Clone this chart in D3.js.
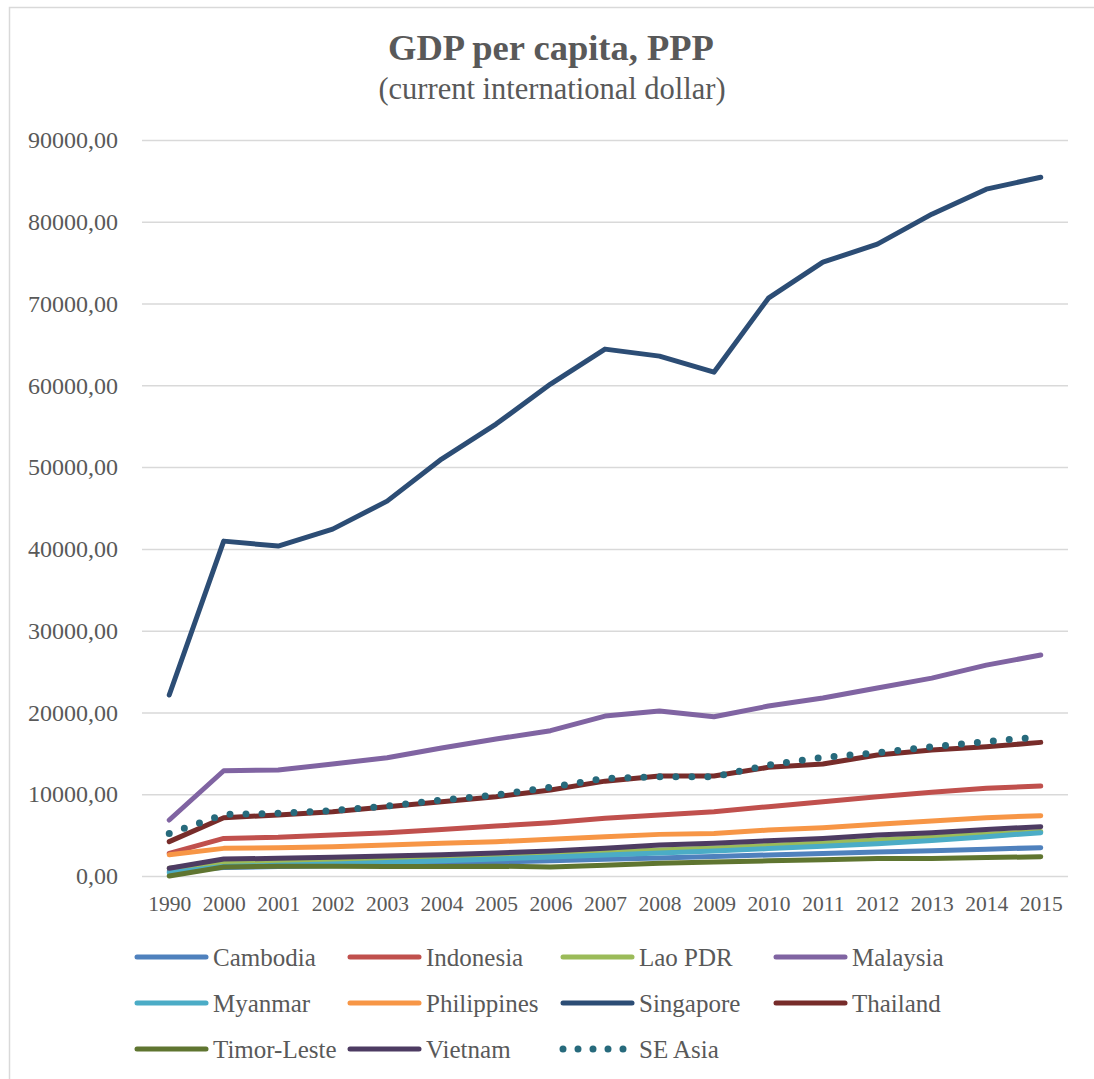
<!DOCTYPE html>
<html>
<head>
<meta charset="utf-8">
<script src="https://cdn.jsdelivr.net/npm/d3@7"></script>
<style>
  html, body { margin: 0; padding: 0; background: #ffffff; }
  svg { display: block; }
  text { font-family: "Liberation Serif", "Times New Roman", serif; fill: #595959; }
</style>
</head>
<body>
<svg id="chart" width="1094" height="1079"></svg>
<script>
// Years on the category axis
const years = ["1990","2000","2001","2002","2003","2004","2005","2006","2007","2008","2009","2010","2011","2012","2013","2014","2015"];

// GDP per capita, PPP (current international $)
const cambodia    = [600, 1050, 1150, 1240, 1360, 1510, 1700, 1880, 2040, 2210, 2390, 2570, 2750, 2920, 3100, 3280, 3460];
const indonesia   = [2770, 4600, 4730, 5010, 5300, 5700, 6110, 6520, 7050, 7460, 7870, 8480, 9090, 9700, 10230, 10720, 11000];
const laoPDR      = [950, 1700, 1820, 1930, 2070, 2250, 2440, 2680, 2930, 3180, 3420, 3720, 4050, 4400, 4780, 5120, 5450];
const malaysia    = [6850, 12870, 12960, 13690, 14460, 15650, 16750, 17770, 19560, 20170, 19480, 20780, 21760, 22980, 24200, 25790, 27020];
const myanmar     = [400, 1150, 1300, 1480, 1660, 1850, 2080, 2320, 2570, 2800, 3050, 3350, 3650, 3950, 4350, 4800, 5300];
const philippines = [2600, 3380, 3460, 3590, 3790, 4000, 4200, 4480, 4810, 5090, 5210, 5620, 5910, 6320, 6720, 7130, 7370];
const singapore   = [22130, 40950, 40340, 42420, 45840, 50980, 55260, 60150, 64430, 63570, 61610, 70660, 75060, 77260, 80930, 83990, 85450];
const thailand    = [4200, 7130, 7460, 7870, 8480, 9090, 9700, 10510, 11600, 12220, 12220, 13290, 13690, 14790, 15400, 15800, 16340];
const timorLeste  = [0, 1100, 1200, 1180, 1150, 1150, 1200, 1100, 1300, 1550, 1700, 1850, 2000, 2150, 2150, 2250, 2350];
const vietnam     = [940, 2080, 2160, 2280, 2440, 2610, 2810, 3060, 3380, 3790, 4000, 4320, 4600, 5010, 5300, 5700, 6020];
const seAsia      = [5200, 7530, 7660, 7990, 8560, 9290, 9900, 10840, 11940, 12140, 12140, 13570, 14510, 15080, 15810, 16420, 17030];

// Value-axis ticks
const yTicks = [0, 10000, 20000, 30000, 40000, 50000, 60000, 70000, 80000, 90000];

const series = [
  { name: "Cambodia",    values: cambodia,    color: "#4f81bd" },
  { name: "Indonesia",   values: indonesia,   color: "#c0504d" },
  { name: "Lao PDR",     values: laoPDR,      color: "#9bbb59" },
  { name: "Malaysia",    values: malaysia,    color: "#8064a2" },
  { name: "Myanmar",     values: myanmar,     color: "#4bacc6" },
  { name: "Philippines", values: philippines, color: "#f79646" },
  { name: "Singapore",   values: singapore,   color: "#2c4d75" },
  { name: "Thailand",    values: thailand,    color: "#772c2a" },
  { name: "Timor-Leste", values: timorLeste,  color: "#5f7530" },
  { name: "Vietnam",     values: vietnam,     color: "#4d3b62" },
  { name: "SE Asia",     values: seAsia,      color: "#276a7c", dotted: true }
];

const svg = d3.select("#chart");

// Chart area frame
svg.append("rect")
  .attr("x", 9.5).attr("y", 7.5)
  .attr("width", 1200).attr("height", 1200)
  .attr("fill", "#ffffff")
  .attr("stroke", "#d9d9d9")
  .attr("stroke-width", 1.5);

const plot = { left: 142, right: 1068, top: 140, bottom: 876 };

const x = d3.scalePoint()
  .domain(years)
  .range([plot.left, plot.right])
  .padding(0.5);

const y = d3.scaleLinear()
  .domain([0, 90000])
  .range([plot.bottom, plot.top]);

// Title
svg.append("text")
  .attr("x", 551).attr("y", 60)
  .attr("text-anchor", "middle")
  .style("font-size", "36.5px")
  .style("font-weight", "bold")
  .text("GDP per capita, PPP");

svg.append("text")
  .attr("x", 552).attr("y", 99)
  .attr("text-anchor", "middle")
  .style("font-size", "30.5px")
  .text("(current international dollar)");

// Gridlines and value labels
const fmt = v => d3.format(".2f")(v).replace(".", ",");

const yAxis = d3.axisLeft(y)
  .tickValues(yTicks)
  .tickSize(-(plot.right - plot.left))
  .tickPadding(24)
  .tickFormat(fmt);

const gy = svg.append("g")
  .attr("transform", `translate(${plot.left},0)`)
  .call(yAxis);
gy.select(".domain").remove();
gy.selectAll(".tick line").attr("stroke", "#d9d9d9").attr("stroke-width", 1.5);
gy.selectAll(".tick text")
  .style("font-size", "24px")
  .attr("fill", "#595959");

// Category labels
const xAxis = d3.axisBottom(x).tickSize(0).tickPadding(20);
const gx = svg.append("g")
  .attr("transform", `translate(0,${plot.bottom})`)
  .call(xAxis);
gx.select(".domain").remove();
gx.selectAll(".tick text")
  .style("font-size", "21.5px")
  .attr("fill", "#595959");

// Series lines
const line = d3.line()
  .x((d, i) => x(years[i]))
  .y(d => y(d));

svg.append("g")
  .selectAll("path")
  .data(series)
  .join("path")
  .attr("d", d => line(d.values))
  .attr("fill", "none")
  .attr("stroke", d => d.color)
  .attr("stroke-width", d => d.dotted ? 7 : 5)
  .attr("stroke-linecap", "round")
  .attr("stroke-linejoin", "round")
  .attr("stroke-dasharray", d => d.dotted ? "0 16" : null);

// Legend
const legend = svg.append("g");
const colX = [137, 350, 563, 776];
const rowY = [957, 1003, 1049];
series.forEach((s, i) => {
  const cx = colX[i % 4];
  const cy = rowY[Math.floor(i / 4)];
  const g = legend.append("g");
  g.append("line")
    .attr("x1", cx).attr("x2", cx + 69)
    .attr("y1", cy).attr("y2", cy)
    .attr("stroke", s.color)
    .attr("stroke-width", s.dotted ? 7 : 5)
    .attr("stroke-linecap", "round")
    .attr("stroke-dasharray", s.dotted ? "0 15" : null);
  g.append("text")
    .attr("x", cx + 76).attr("y", cy)
    .attr("dy", "0.35em")
    .style("font-size", "25px")
    .text(s.name);
});
</script>
</body>
</html>
